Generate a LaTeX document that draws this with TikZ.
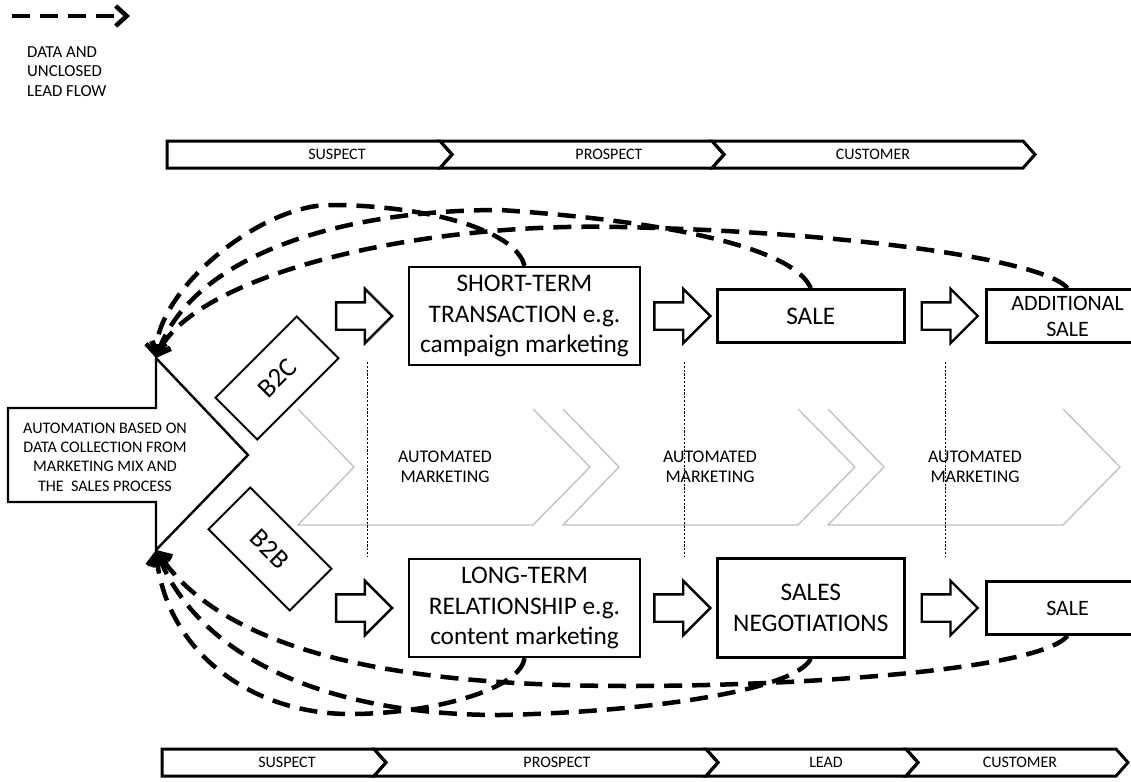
\documentclass[tikz,border=0pt]{standalone}
\usepackage{fontspec}
\setmainfont{Carlito}
\usetikzlibrary{positioning}
\usetikzlibrary{arrows.meta}
\usetikzlibrary{shapes.arrows}

\begin{document}
\begin{tikzpicture}[
      x=1pt, y=-1pt,
      box/.style ={draw, line width=2.4pt, align=center, inner sep=0pt, font=\fontsize{25.3}{30.5}\selectfont},
      smallbox/.style ={box, minimum width=162pt, minimum height=53pt, font=\fontsize{22}{26}\selectfont},
      tilt/.style ={draw, line width=2pt, minimum width=115pt, minimum height=59pt, font=\fontsize{27}{30}\selectfont},
      hollow/.style ={single arrow, draw, line width=2.4pt, inner xsep=0pt, inner ysep=12.5pt, single arrow head extend=13.5pt, minimum height=56pt},
      flowline/.style ={line width=4.5pt, dash pattern=on 18pt off 10pt, -{Straight Barb[length=11pt,width=20pt]}},
      stagebar/.style ={line width=3pt},
      barlabel/.style ={font=\fontsize{16}{18}\selectfont, inner sep=0pt},
      chev/.style ={draw=black!25, line width=1.3pt},
      guideline/.style ={line width=0.6pt, dash pattern=on 2.2pt off 1.6pt},
      node distance=12pt
    ]
    \useasboundingbox (0,0) rectangle (1131,781) ;
    \clip (0,0) rectangle (1131,781) ;

    \coordinate (lega) at (12,16) ;
    \coordinate (legb) at (130,16) ;
    \draw [flowline] (lega) -- (legb) ;
    \node [anchor=west, align=left, inner sep=0pt, font=\fontsize{16.8}{19.5}\selectfont] (legend) at (27,71.5) {DATA AND\\UNCLOSED\\LEAD FLOW} ;

    \foreach \xl/\xr/\nn/\lab/\xt in {167/440/0/SUSPECT/337, 440/712/12/PROSPECT/609, 712/1023/12/CUSTOMER/873}
      {
      \draw [stagebar] (\xl,141) -- (\xr,141) -- (\xr+12,154.5) -- (\xr,168) -- (\xl,168) -- (\xl+\nn,154.5) -- cycle ;
      \node [barlabel] (top\lab) at (\xt,154.5) {\lab} ;
      }
    \foreach \xl/\xr/\nn/\lab/\xt in {162/374/0/SUSPECT/287, 374/706/12/PROSPECT/557, 706/906/12/LEAD/826, 906/1116/12/CUSTOMER/1020}
      {
      \draw [stagebar] (\xl,749) -- (\xr,749) -- (\xr+12,762.5) -- (\xr,776) -- (\xl,776) -- (\xl+\nn,762.5) -- cycle ;
      \node [barlabel] (bot\lab) at (\xt,762.5) {\lab} ;
      }

    \foreach \x/\k in {298/1, 563/2, 828/3}
      {
      \draw [chev] (\x,409) -- (\x+56,467) -- (\x,525) -- (\x+235,525) -- (\x+292,467) -- (\x+235,409) ;
      \node [align=center, inner sep=0pt, font=\fontsize{17.8}{20}\selectfont] (auto\k) at (\x+147,467) {AUTOMATED\\MARKETING} ;
      }
    \foreach \x in {367,684,945}
      \draw [guideline] (\x,362) -- (\x,557) ;

    \draw [line width=2.4pt] (8,408) -- (156,408) -- (156,358) coordinate (autotop) -- (248,455) -- (156,550) coordinate (autobot) -- (156,502) -- (8,502) -- cycle ;
    \node [align=center, inner sep=0pt, font=\fontsize{16.1}{19.3}\selectfont] (autotext) at (105,457) {AUTOMATION BASED ON\\DATA COLLECTION FROM\\MARKETING MIX AND\\THE\ \ SALES PROCESS} ;

    \node [tilt, rotate=45] (b2c) at (277,378) {B2C} ;
    \node [tilt, rotate=-45] (b2b) at (270,549) {B2B} ;

    \node [box, minimum width=231pt, minimum height=98pt] (st) at (524.5,316) {SHORT-TERM\\TRANSACTION e.g.\\campaign marketing} ;
    \node [hollow] (ta) [left=14pt of st] {} ;
    \node [hollow] (tb) [right=of st] {} ;
    \node [box, minimum width=187pt, minimum height=53pt] (sale) [right=4pt of tb] {SALE} ;
    \node [hollow] (tc) [right=15pt of sale] {} ;
    \node [smallbox] (addsale) [right=6pt of tc] {ADDITIONAL\\SALE} ;

    \node [box, minimum width=231pt, minimum height=98pt] (lt) at (524.5,608) {LONG-TERM\\RELATIONSHIP e.g.\\content marketing} ;
    \node [hollow] (ba) [left=14pt of lt] {} ;
    \node [hollow] (bb) [right=of lt] {} ;
    \node [box, minimum width=187pt, minimum height=99pt] (neg) [right=4pt of bb] {SALES\\NEGOTIATIONS} ;
    \node [hollow] (bc) [right=15pt of neg] {} ;
    \node [smallbox] (lastsale) [right=6pt of bc] {SALE} ;

    \draw [flowline] (st.north) .. controls (515,228) and (420,205) .. (330,205) .. controls (260,205) and (156,290) .. (autotop) ;
    \draw [flowline] (sale.north) .. controls (795,250) and (680,222) .. (500,210) .. controls (330,210) and (190,260) .. (autotop) ;
    \draw [flowline] (addsale.north) .. controls (1045,260) and (850,232) .. (620,227) .. controls (400,222) and (190,280) .. (autotop) ;
    \draw [flowline] (lt.south) .. controls (520,690) and (430,714) .. (350,714) .. controls (250,714) and (165,650) .. (autobot) ;
    \draw [flowline] (neg.south) .. controls (795,690) and (650,712) .. (500,715) .. controls (330,715) and (200,660) .. (autobot) ;
    \draw [flowline] (lastsale.south) .. controls (1040,670) and (800,686) .. (630,686) .. controls (420,686) and (230,660) .. (autobot) ;
  \end{tikzpicture}
\end{document}
